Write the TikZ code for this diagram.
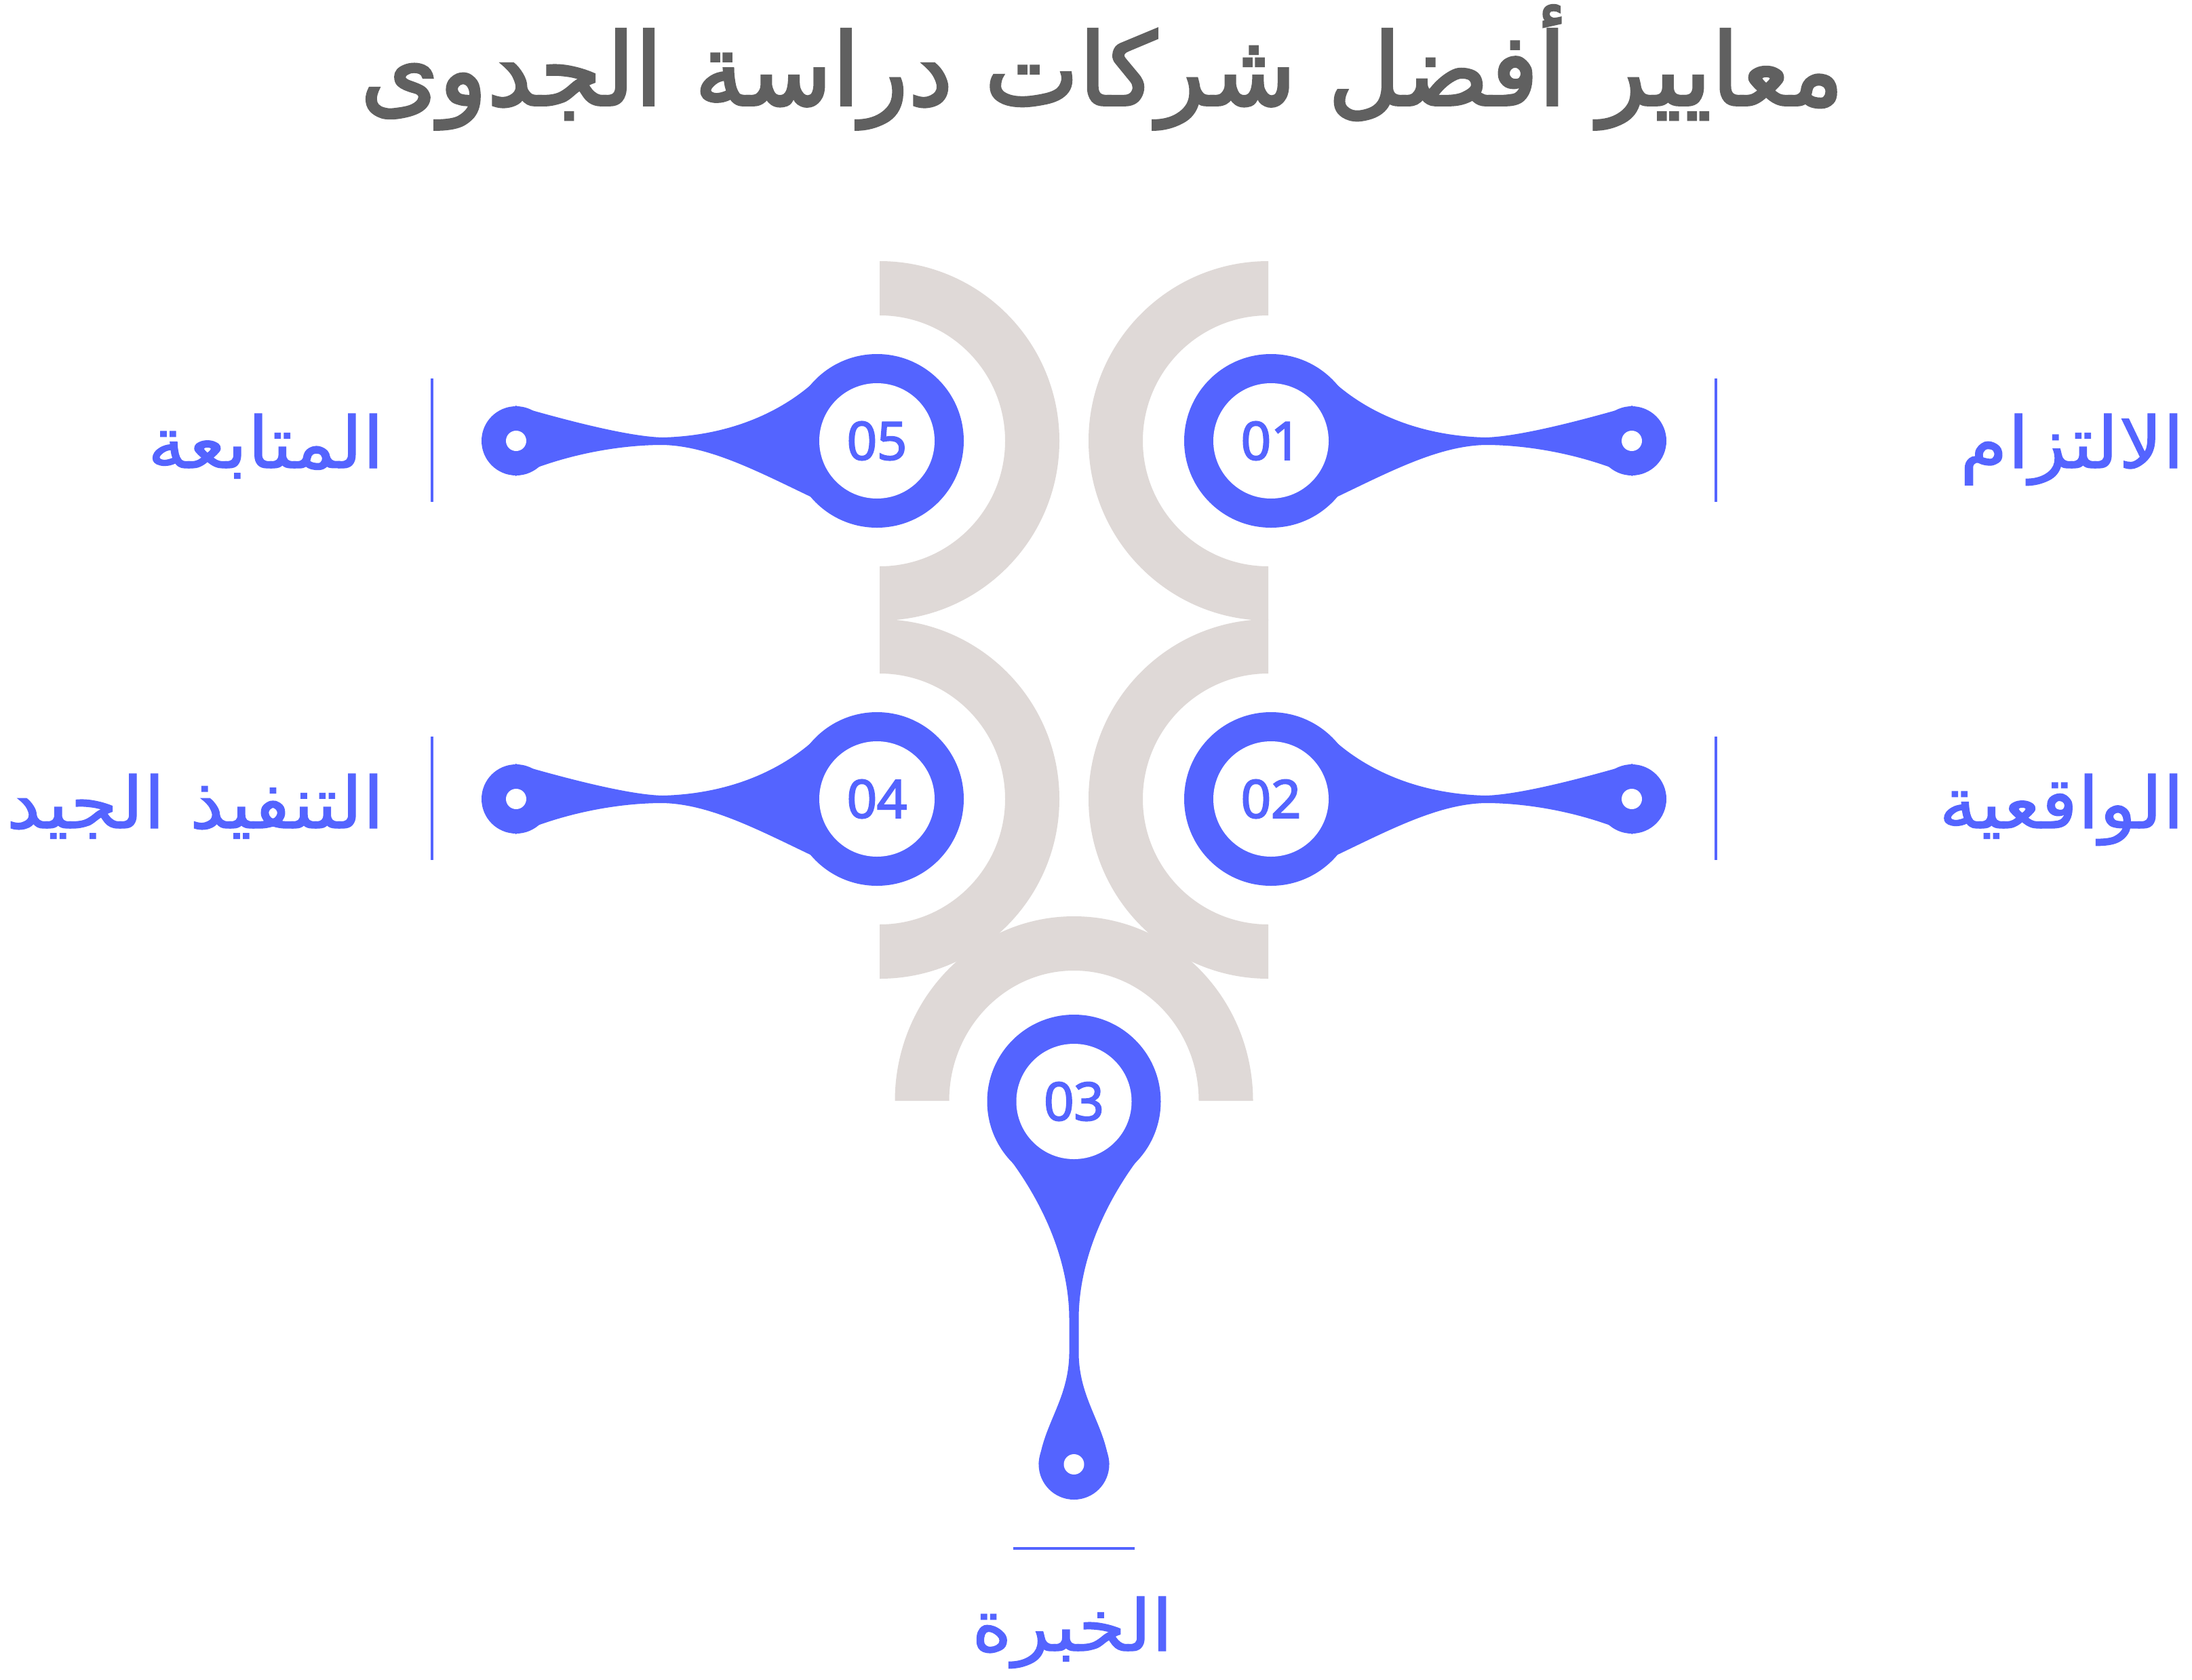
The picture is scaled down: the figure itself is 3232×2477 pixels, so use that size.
\documentclass[tikz,border=0pt]{standalone}
\usepackage{fontspec}
\setmainfont{DejaVu Sans}
\newfontfamily\arabicfont[Script=Arabic, FakeBold=1.2, FakeStretch=1.08]{DejaVu Sans}
\newfontfamily\titlefont[Script=Arabic, FakeBold=2.5]{DejaVu Sans}
\newfontfamily\numfont[FakeBold=3]{Open Sans}
\TeXXeTstate=1

\definecolor{pinblue}{HTML}{5464FF}
\definecolor{bandgray}{HTML}{DFD9D7}
\definecolor{titlegray}{HTML}{606060}

\begin{document}
\begin{tikzpicture}[
	x = 0.1mm, y = -0.1mm,
	band/.style = {fill = bandgray},
	pinbody/.style = {fill = pinblue},
	hole/.style = {fill = white},
	num/.style = {
	  text = pinblue, inner sep = 0pt,
	  font = \numfont\fontsize{22}{22}\selectfont,
	},
	lab/.style = {
	  text = pinblue, inner sep = 0pt, anchor = base east,
	  font = \arabicfont\fontsize{30}{30}\selectfont,
	},
	sep/.style = {draw = pinblue, line width = 0.4mm},
  ]

  \useasboundingbox[fill = white] (0,0) rectangle (3232,2477);

  \node[text = titlegray, inner sep = 0pt, anchor = base,
	font = \titlefont\fontsize{42}{42}\selectfont] (title)
	at (1625,155) {\beginR معايير أفضل شركات دراسة الجدوى\endR};

  % gray bands
  \foreach \cy in {650,1178} {
	\fill[band] (1297,\cy) ++(90:26.5mm)
	  arc[start angle = 90, end angle = -90, radius = 26.5mm] -- ++(90:8mm)
	  arc[start angle = -90, end angle = 90, radius = 18.5mm] -- cycle;
	\fill[band] (1870,\cy) ++(90:26.5mm)
	  arc[start angle = 90, end angle = 270, radius = 26.5mm] -- ++(90:8mm)
	  arc[start angle = 270, end angle = 90, radius = 18.5mm] -- cycle;
  }
  \fill[band] (1583.5,1623) ++(180:26.4mm)
	arc[start angle = 180, end angle = 0, x radius = 26.4mm, y radius = 27.2mm]
	-- ++(180:8mm)
	arc[start angle = 0, end angle = 180, x radius = 18.4mm, y radius = 19.2mm]
	-- cycle;

  % side pins
  \foreach \cx/\cy/\s/\n in {1874/650/1/01, 1874/1178/1/02, 1293/650/-1/05, 1293/1178/-1/04} {
	\begin{scope}[shift = {(\cx,\cy)}, xscale = \s]
	  \fill[pinbody] (0,0) circle[radius = 12.8mm];
	  \fill[pinbody] (532,0) circle[radius = 5.1mm];
	  \fill[pinbody] (86,-93) .. controls (125,-55) and (200,-8) .. (316,-5)
		.. controls (360,-6) and (440,-25) .. (533,-52)
		-- (533,52) .. controls (460,20) and (380,6) .. (316,6)
		.. controls (220,8) and (120,80) .. (-6,128) -- (0,0) -- cycle;
	  \fill[hole] (0,0) circle[radius = 8.5mm];
	  \fill[hole] (532,0) circle[radius = 1.5mm];
	\end{scope}
	\node[num] (n\n) at (\cx,\cy) {\n};
  }

  % bottom pin
  \begin{scope}[shift = {(1583.5,1624)}, rotate = -90]
	\fill[pinbody] (0,0) circle[radius = 12.8mm];
	\fill[pinbody] (535,0) circle[radius = 5.2mm];
	\fill[pinbody] (70,-106) .. controls (140,-50) and (230,-7) .. (321,-7)
	  -- (372,-7) .. controls (440,-8) and (475,-45) .. (535,-52)
	  -- (535,52) .. controls (475,45) and (440,8) .. (372,7)
	  -- (321,7) .. controls (230,7) and (140,50) .. (70,106) -- (0,0) -- cycle;
	\fill[hole] (0,0) circle[radius = 8.5mm];
	\fill[hole] (535,0) circle[radius = 1.5mm];
  \end{scope}
  \node[num] (n03) at (1583.5,1624) {03};

  % labels
  \node[lab] (l01) at (3221,690) {\beginR الالتزام\endR};
  \node[lab] (l02) at (3221,1221) {\beginR الواقعية\endR};
  \node[lab] (l05) at (567,690) {\beginR المتابعة\endR};
  \node[lab] (l04) at (567,1221) {\beginR التنفيذ الجيد\endR};
  \node[lab, anchor = base] (l03) at (1581,2434) {\beginR الخبرة\endR};

  \foreach \x/\y in {637/649, 637/1177, 2530/649, 2530/1177} {
	\draw[sep] (\x,\y-91) -- (\x,\y+91);
  }
  \draw[sep] (1494,2283) -- (1673,2283);
\end{tikzpicture}
\end{document}
